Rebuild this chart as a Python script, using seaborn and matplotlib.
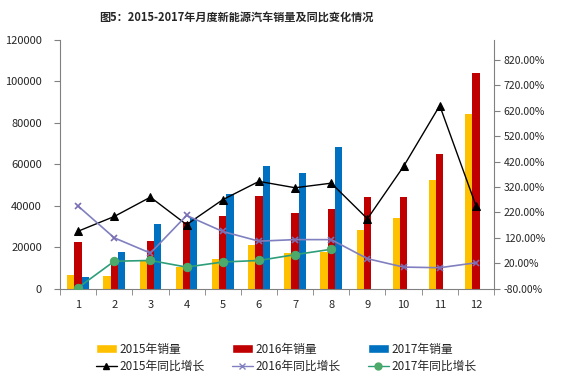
import pandas as pd
import seaborn as sns
import matplotlib.pyplot as plt
import numpy as np
from matplotlib.patches import Patch
from matplotlib.lines import Line2D
from matplotlib.ticker import FuncFormatter

sns.set_style('white')
plt.rcParams['font.family'] = ['Noto Sans CJK SC', 'DejaVu Sans']

months = ['1', '2', '3', '4', '5', '6', '7', '8', '9', '10', '11', '12']
sales_2015 = [6500, 6100, 13900, 10300, 14200, 21100, 17000, 17900, 28300, 34300, 52500, 84300]
sales_2016 = [22400, 14000, 23000, 32300, 35100, 44700, 36700, 38300, 44400, 44400, 65200, 104200]
sales_2017 = [5500, 17900, 31100, 34300, 45700, 59200, 56000, 68200, np.nan, np.nan, np.nan, np.nan]
growth_2015 = [146, 204, 280, 172, 270, 342, 317, 335, 195, 401, 640, 247]
growth_2016 = [245, 120, 60, 208, 145, 107, 113, 113, 38, 5, 2.5, 22]
growth_2017 = [-76, 28, 31, 5, 25, 31, 54, 75]

bar_names = ['2015年销量', '2016年销量', '2017年销量']
bar_colors = ['#FFC000', '#C00000', '#0070C0']

df = pd.DataFrame({
    'month': months * 3,
    'sales': sales_2015 + sales_2016 + sales_2017,
    'series': [bar_names[0]] * 12 + [bar_names[1]] * 12 + [bar_names[2]] * 12,
})

fig = plt.figure(figsize=(5.83, 3.81), dpi=100)
ax = fig.add_axes([60 / 583, 1 - 288.7 / 381, (494 - 60) / 583, (288.7 - 40) / 381])

sns.barplot(data=df, x='month', y='sales', hue='series', palette=bar_colors,
            width=0.6, ax=ax, legend=False, saturation=1, linewidth=0, edgecolor='none')
ax.set_ylim(0, 120000)
ax.set_xlim(-0.5, 11.5)
ax.set_yticks(range(0, 120001, 20000))
ax.set_xlabel('')
ax.set_ylabel('')

ax2 = ax.twinx()
x = np.arange(12)
sns.lineplot(x=x, y=growth_2015, ax=ax2, color='black', marker='^', markersize=6,
             markeredgecolor='black', linewidth=1)
sns.lineplot(x=x, y=growth_2016, ax=ax2, color='#8080C0', marker='x', markersize=4,
             markeredgecolor='#7A6FB5', markeredgewidth=1.2, linewidth=1.2)
sns.lineplot(x=x[:8], y=growth_2017, ax=ax2, color='#2E9E7A', marker='o', markersize=6,
             markerfacecolor='#4DAA6A', markeredgecolor='#4DAA6A', linewidth=1.2)
ax2.set_ylim(-80, 898)
ax2.set_yticks(range(-80, 821, 100))
ax2.yaxis.set_major_formatter(FuncFormatter(lambda v, p: f'{v:.2f}%'))
ax2.set_xlim(-0.5, 11.5)

for a in (ax, ax2):
    a.spines['top'].set_visible(False)
    for s in ('left', 'right', 'bottom'):
        a.spines[s].set_color('#808080')
        a.spines[s].set_linewidth(0.8)
ax.spines['right'].set_visible(False)
ax2.spines['left'].set_visible(False)
ax2.spines['bottom'].set_visible(False)

ax.tick_params(axis='y', direction='out', length=4, color='#808080', labelsize=8, pad=9, left=True)
ax2.tick_params(axis='y', direction='out', length=4, color='#808080', labelsize=7.5, pad=3, right=True)
ax.tick_params(axis='x', length=0, labelsize=8, pad=8)
ax.set_xticks(np.arange(-0.5, 12, 1), minor=True)
ax.tick_params(axis='x', which='minor', direction='out', length=4, color='#808080', bottom=True)

fig.text(236 / 583, 1 - 18 / 381, '图5：2015-2017年月度新能源汽车销量及同比变化情况',
         ha='center', va='center', fontsize=8, fontweight='heavy')

handles = [
    Patch(facecolor=bar_colors[0], label='2015年销量'),
    Line2D([], [], color='black', marker='^', markersize=5, linewidth=1, label='2015年同比增长'),
    Patch(facecolor=bar_colors[1], label='2016年销量'),
    Line2D([], [], color='#8080C0', marker='x', markersize=4, linewidth=1, label='2016年同比增长'),
    Patch(facecolor=bar_colors[2], label='2017年销量'),
    Line2D([], [], color='#2E9E7A', marker='o', markersize=5, markerfacecolor='#4DAA6A',
           markeredgecolor='#4DAA6A', linewidth=1, label='2017年同比增长'),
]
fig.legend(handles=handles, ncol=3, loc='center', bbox_to_anchor=(286 / 583, 1 - 358 / 381),
           frameon=False, fontsize=8.5, handlelength=1.8, handleheight=0.8,
           columnspacing=2.3, labelspacing=0.35, handletextpad=0.2)

fig.savefig('out.png', dpi=100)
